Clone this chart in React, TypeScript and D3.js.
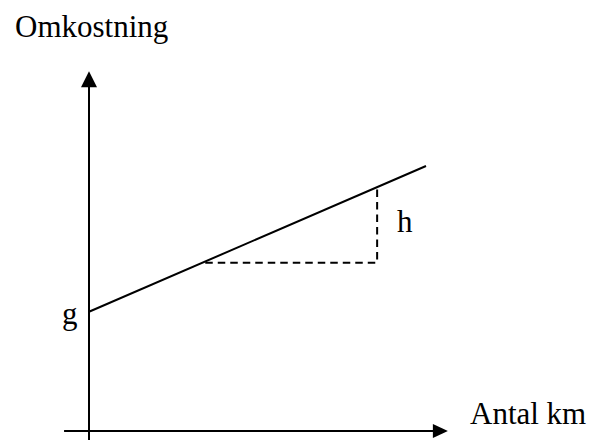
import React from "react";
import * as d3 from "d3";

const W = 592;
const H = 448;

// conceptual data (units)
const linePoints: [number, number][] = [
  [0, 45],
  [100, 100],
];
const dashedPoints: [number, number][] = [
  [34.5, 63.5],
  [85.5, 63.5],
  [85.5, 92],
];
const xAxisExtent = [-7.4, 106.5];
const yAxisExtent = [-3.4, 135.8];
const labels = {
  yTitle: "Omkostning",
  xTitle: "Antal km",
  intercept: "g",
  slope: "h",
};

export default function App() {
  const x = d3.scaleLinear().domain([0, 100]).range([89, 426]);
  const y = d3.scaleLinear().domain([0, 100]).range([431, 166]);
  const line = d3
    .line<[number, number]>()
    .x((d) => x(d[0]))
    .y((d) => y(d[1]));

  const x0 = x(0);
  const y0 = y(0);
  const xEnd = x(xAxisExtent[1]);
  const yTop = y(yAxisExtent[1]);
  const font = "'Liberation Serif', 'Times New Roman', serif";

  return (
    <svg
      width={W}
      height={H}
      style={{ position: "absolute", left: 0, top: 0 }}
      viewBox={`0 0 ${W} ${H}`}
    >
      <rect width={W} height={H} fill="#fff" />
      {/* y axis */}
      <line
        x1={x0}
        x2={x0}
        y1={y(yAxisExtent[0])}
        y2={yTop + 14}
        stroke="#000"
        strokeWidth={2}
      />
      <path
        d={`M${x0},${yTop} L${x0 - 8},${yTop + 16} L${x0 + 8},${yTop + 16} Z`}
        fill="#000"
      />
      {/* x axis */}
      <line
        x1={x(xAxisExtent[0])}
        x2={xEnd - 13}
        y1={y0}
        y2={y0}
        stroke="#000"
        strokeWidth={2}
      />
      <path
        d={`M${xEnd},${y0} L${xEnd - 15},${y0 - 7} L${xEnd - 15},${y0 + 7} Z`}
        fill="#000"
      />
      {/* cost line */}
      <path d={line(linePoints) || ""} fill="none" stroke="#000" strokeWidth={2} />
      {/* dashed triangle */}
      <path
        d={line(dashedPoints) || ""}
        fill="none"
        stroke="#000"
        strokeWidth={2}
        strokeDasharray="7.5,5"
      />
      <text x={15} y={37} fontFamily={font} fontSize={31} fill="#000">
        {labels.yTitle}
      </text>
      <text x={470} y={424} fontFamily={font} fontSize={31} fill="#000">
        {labels.xTitle}
      </text>
      <text x={62} y={324} fontFamily={font} fontSize={31} fill="#000">
        {labels.intercept}
      </text>
      <text x={397} y={232} fontFamily={font} fontSize={31} fill="#000">
        {labels.slope}
      </text>
    </svg>
  );
}
